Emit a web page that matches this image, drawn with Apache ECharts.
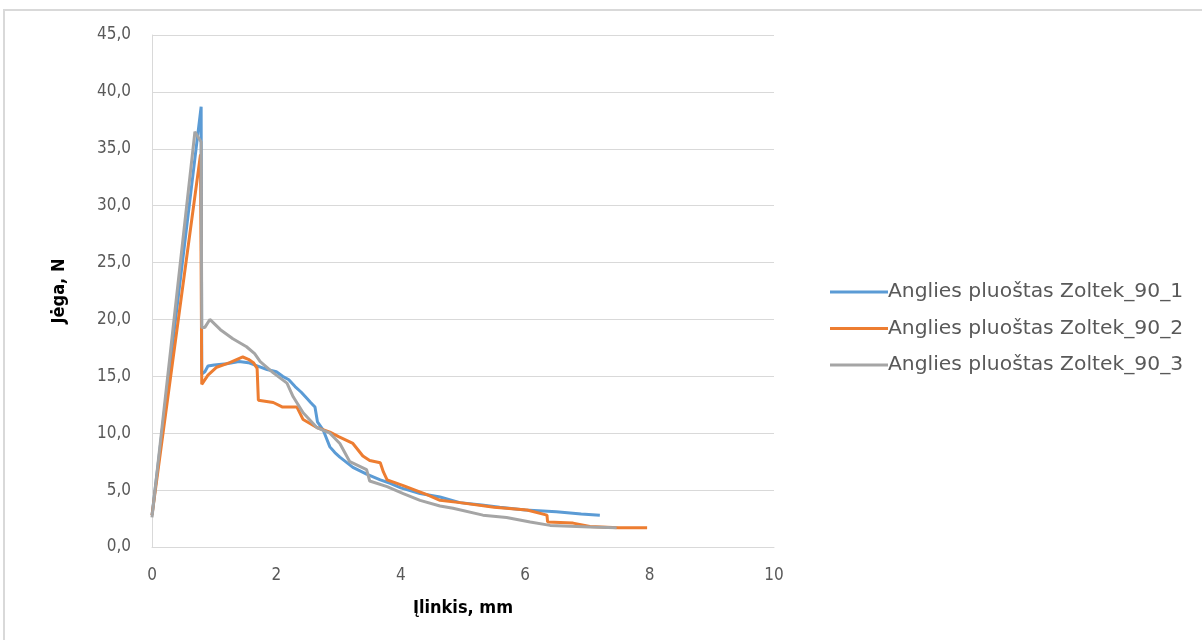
<!DOCTYPE html>
<html><head><meta charset="utf-8">
<script src="https://cdn.jsdelivr.net/npm/echarts@6/dist/echarts.min.js"></script>
<style>html,body{margin:0;padding:0;background:#fff}#c{width:1202px;height:640px}</style>
</head><body><div id="c"></div>
<script>
const seriesNames = ['Anglies pluoštas Zoltek_90_1','Anglies pluoštas Zoltek_90_2','Anglies pluoštas Zoltek_90_3'];
const xTicks = [0,2,4,6,8,10];
const yTicks = [0,5,10,15,20,25,30,35,40,45];
const s1 = [[0,2.8],[0.79,38.7],[0.8,15.2],[0.85,15.4],[0.9,15.9],[1.0,16.0],[1.2,16.1],[1.4,16.3],[1.55,16.2],[1.7,15.9],[1.85,15.6],[2.0,15.4],[2.1,15.0],[2.2,14.7],[2.3,14.1],[2.4,13.6],[2.5,13.0],[2.55,12.7],[2.62,12.3],[2.66,11.0],[2.75,10.3],[2.86,8.8],[2.94,8.3],[3.02,7.9],[3.23,7.0],[3.45,6.4],[3.67,5.9],[3.83,5.6],[4.0,5.2],[4.31,4.7],[4.63,4.4],[4.95,3.9],[5.3,3.7],[5.59,3.5],[6.0,3.25],[6.5,3.1],[6.9,2.9],[7.2,2.8]];
const s2 = [[0,2.8],[0.78,34.5],[0.8,14.3],[0.82,14.2],[0.9,15.1],[1.04,15.8],[1.25,16.2],[1.46,16.7],[1.55,16.5],[1.63,16.2],[1.69,15.7],[1.71,12.9],[1.95,12.7],[2.1,12.3],[2.33,12.3],[2.43,11.2],[2.65,10.5],[2.86,10.1],[3.0,9.7],[3.23,9.1],[3.39,8.0],[3.5,7.6],[3.67,7.4],[3.72,6.6],[3.78,5.9],[4.04,5.4],[4.42,4.6],[4.63,4.1],[4.95,3.9],[5.5,3.5],[6.03,3.25],[6.35,2.8],[6.36,2.2],[6.77,2.1],[7.04,1.8],[7.5,1.7],[7.96,1.7]];
const s3 = [[0,2.6],[0.69,36.5],[0.79,35.6],[0.8,19.3],[0.85,19.3],[0.93,20.0],[1.1,19.1],[1.3,18.3],[1.52,17.6],[1.65,17.0],[1.74,16.3],[1.95,15.3],[2.17,14.4],[2.27,13.2],[2.43,11.8],[2.65,10.5],[2.86,10.0],[3.02,9.1],[3.18,7.5],[3.45,6.8],[3.5,5.8],[3.78,5.3],[4.04,4.7],[4.31,4.1],[4.63,3.6],[4.84,3.4],[5.32,2.8],[5.7,2.6],[6.08,2.2],[6.4,1.9],[7.04,1.75],[7.47,1.7]];
const colors = ['#5B9BD5','#ED7D31','#A5A5A5'];
const tickFont = '"DejaVu Sans Condensed","Liberation Sans Narrow",sans-serif';
const chart = echarts.init(document.getElementById('c'), null, {renderer:'canvas'});
chart.setOption({
  animation:false,
  color: colors,
  graphic:[{type:'rect', shape:{x:4,y:10,width:1220,height:660}, style:{fill:'none',stroke:'#D9D9D9',lineWidth:2}, silent:true}],
  grid:{left:152, right:428, top:35, bottom:93},
  legend:{orient:'vertical', left:825, top:277, icon:'rect', itemWidth:58, itemHeight:3, itemGap:16.5,
    data: seriesNames,
    textStyle:{fontFamily:'"DejaVu Sans",sans-serif', fontSize:20.3, color:'#595959', lineHeight:19, padding:[0,0,0,-5]}},
  xAxis:{type:'value', min:xTicks[0], max:xTicks[xTicks.length-1], interval:2,
    name:'Įlinkis, mm', nameLocation:'middle', nameGap:52,
    nameTextStyle:{fontFamily:tickFont, fontWeight:'bold', fontSize:18, color:'#000'},
    axisLine:{show:true, lineStyle:{color:'#D9D9D9', width:1}},
    axisTick:{show:false},
    axisLabel:{fontFamily:tickFont, fontSize:17, color:'#595959', margin:20},
    splitLine:{show:false}},
  yAxis:{type:'value', min:yTicks[0], max:yTicks[yTicks.length-1], interval:5,
    name:'Jėga, N', nameLocation:'middle', nameGap:84, nameRotate:90,
    nameTextStyle:{fontFamily:tickFont, fontWeight:'bold', fontSize:18, color:'#000'},
    axisLine:{show:true, lineStyle:{color:'#D9D9D9', width:1}},
    axisTick:{show:false},
    axisLabel:{fontFamily:tickFont, fontSize:17, color:'#595959', margin:21,
      formatter:v=>v.toFixed(1).replace('.',',')},
    splitLine:{show:true, lineStyle:{color:'#D9D9D9', width:1}}},
  series:[s1,s2,s3].map((d,i)=>({name:seriesNames[i], type:'line', data:d, showSymbol:false, symbol:'none',
    lineStyle:{width:3, color:colors[i]}, itemStyle:{color:colors[i]}}))
});
</script></body></html>
